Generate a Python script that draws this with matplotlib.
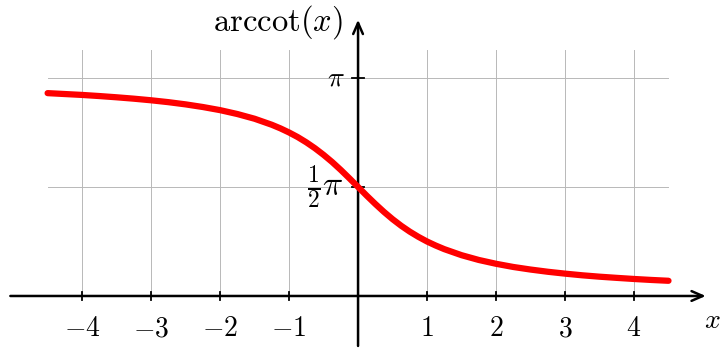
import numpy as np
import matplotlib.pyplot as plt

plt.rcParams['mathtext.fontset'] = 'cm'
plt.rcParams['font.family'] = 'serif'
plt.rcParams['font.serif'] = ['DejaVu Serif']

# sampled values of arccot(x), denser where the curve bends most
xs = [-4.5, -4.25, -4.0, -3.75, -3.5, -3.25, -3.0, -2.75, -2.5, -2.25, -2.0,
      -1.75, -1.5, -1.25, -1.125, -1.0, -0.875, -0.75, -0.625, -0.5, -0.375,
      -0.25, -0.125, 0.0, 0.125, 0.25, 0.375, 0.5, 0.625, 0.75, 0.875,
      1.0, 1.125, 1.25, 1.5, 1.75, 2.0, 2.25, 2.5, 2.75, 3.0, 3.25, 3.5, 3.75,
      4.0, 4.25, 4.5]
ys = [2.923, 2.910, 2.897, 2.881, 2.863, 2.843, 2.820, 2.793, 2.761, 2.723,
      2.678, 2.622, 2.554, 2.467, 2.415, 2.356, 2.290, 2.214, 2.129, 2.034,
      1.930, 1.816, 1.695, 1.571, 1.446, 1.326, 1.212, 1.107, 1.012, 0.927,
      0.852, 0.785, 0.727, 0.675, 0.588, 0.519, 0.464, 0.418, 0.381, 0.349,
      0.322, 0.298, 0.278, 0.261, 0.245, 0.231, 0.219]

xticks = [-4, -3, -2, -1, 1, 2, 3, 4]
xtick_labels = [r'$-4$', r'$-3$', r'$-2$', r'$-1$', r'$1$', r'$2$', r'$3$', r'$4$']
yticks = [np.pi / 2, np.pi]
ytick_labels = [r'$\frac{1}{2}\pi$', r'$\pi$']
ytick_sizes = [24, 20]

fig = plt.figure(figsize=(7.23, 3.49), dpi=100)
ax = fig.add_axes([0, 0, 1, 1])
ax.set_xlim(-5.19, 5.29)
ax.set_ylim(-0.764, 4.265)
ax.axis('off')

# grid
for xv in xticks:
    ax.plot([xv, xv], [0, 3.55], color='#b8b8b8', lw=0.7, zorder=1)
for yv in yticks:
    ax.plot([-4.5, 4.5], [yv, yv], color='#b8b8b8', lw=0.7, zorder=1)

# axes with arrows
arrow = dict(arrowstyle='->,head_length=0.8,head_width=0.35',
             lw=1.8, color='black', shrinkA=0, shrinkB=0)
ax.annotate('', xy=(5.04, 0), xytext=(-5.04, 0), arrowprops=arrow, zorder=3)
ax.annotate('', xy=(0, 3.98), xytext=(0, -0.72), arrowprops=arrow, zorder=3)

# ticks
for xv, lab in zip(xticks, xtick_labels):
    ax.plot([xv, xv], [-0.06, 0.06], color='black', lw=1.3, zorder=3)
    ax.text(xv, -0.28, lab, ha='center', va='top', fontsize=20)
for yv, lab, fs in zip(yticks, ytick_labels, ytick_sizes):
    ax.plot([-0.09, 0.09], [yv, yv], color='black', lw=1.3, zorder=3)
    ax.text(-0.2, yv, lab, ha='right', va='center', fontsize=fs)

ax.plot(xs, ys, color='#ff0000', lw=4.5, solid_capstyle='round',
        solid_joinstyle='round', zorder=4)

ax.text(5.25, -0.35, r'$x$', ha='right', va='center', fontsize=20)
ax.text(-0.22, 3.95, r'$\mathrm{arccot}(x)$', ha='right', va='center', fontsize=23.5)

fig.savefig('out.png', dpi=100)
